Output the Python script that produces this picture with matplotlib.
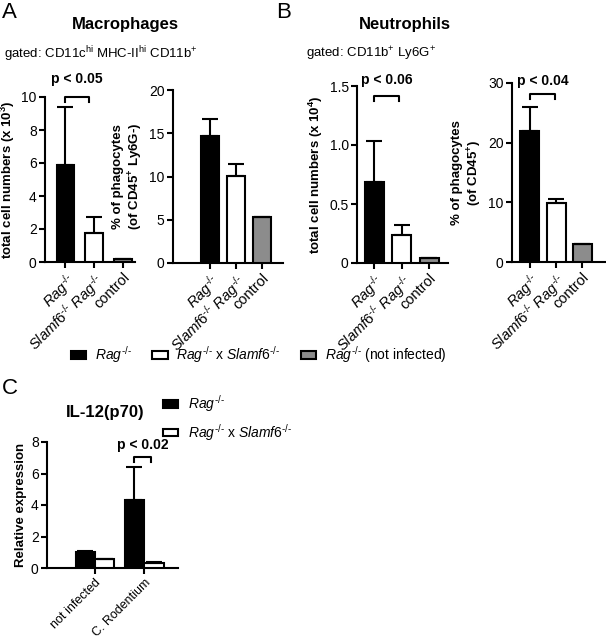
import numpy as np
import matplotlib.pyplot as plt
from matplotlib.patches import Patch

plt.rcParams['font.family'] = ['Liberation Sans', 'DejaVu Sans']
plt.rcParams['mathtext.fontset'] = 'custom'
plt.rcParams['mathtext.rm'] = 'Liberation Sans'
plt.rcParams['mathtext.it'] = 'Liberation Sans:italic'
plt.rcParams['mathtext.bf'] = 'Liberation Sans:bold'

KO = r'^{\text{-/-}}'

# data
groups = [r'$\mathit{Rag}' + KO + '$', r'$\mathit{Slamf6}' + KO + r'\ \mathit{Rag}' + KO + '$', 'control']
colors = ['black', 'white', '#8c8c8c']

mac_counts = [5.9, 1.75, 0.2]
mac_counts_err = [3.5, 1.0, 0.0]
mac_pct = [14.7, 10.1, 5.3]
mac_pct_err = [2.0, 1.4, 0.0]

neu_counts = [0.69, 0.235, 0.04]
neu_counts_err = [0.34, 0.09, 0.0]
neu_pct = [21.9, 9.9, 3.0]
neu_pct_err = [4.1, 0.7, 0.0]

il12_groups = ['not infected', 'C. Rodentium']
il12_rag = [1.0, 4.3]
il12_rag_err = [0.1, 2.1]
il12_slamf6 = [0.57, 0.3]
il12_slamf6_err = [0.03, 0.1]

fig = plt.figure(figsize=(6.06, 6.40), dpi=100)

def px_rect(l, r, t, b):
    return [l / 606, 1 - b / 640, (r - l) / 606, (b - t) / 640]

def style(ax):
    for s in ['top', 'right']:
        ax.spines[s].set_visible(False)
    for s in ['left', 'bottom']:
        ax.spines[s].set_linewidth(1.5)
    ax.tick_params(width=1.5, length=4, labelsize=10, pad=2)

def bar_panel(rect, vals, errs, ymax, yticks, yticklabels, ylabel, xlim, width):
    ax = fig.add_axes(rect)
    x = np.arange(len(vals))
    ax.bar(x, vals, width=width, color=colors, edgecolor='black', linewidth=1.5,
           yerr=[np.zeros(len(errs)), errs], capsize=6,
           error_kw=dict(elinewidth=1.5, capthick=1.5, ecolor='black'), zorder=3)
    ax.set_xlim(*xlim)
    ax.set_ylim(0, ymax)
    ax.set_yticks(yticks)
    ax.set_yticklabels(yticklabels)
    ax.set_xticks(x)
    style(ax)
    ax.set_xticklabels(groups, rotation=45, ha='right', rotation_mode='anchor', fontsize=10.5)
    ax.set_ylabel(ylabel, fontsize=9.5, fontweight='bold', labelpad=3)
    return ax

def bracket(ax, x0, x1, y, drop, label, ty):
    ax.plot([x0, x0, x1, x1], [y - drop, y, y, y - drop], color='black', lw=1.5, clip_on=False)
    ax.text((x0 + x1) / 2, ty, label, ha='center', va='center', fontsize=10, fontweight='bold')

# A left
axA1 = bar_panel(px_rect(45, 135, 97, 262), mac_counts, mac_counts_err, 10,
                 [0, 2, 4, 6, 8, 10], ['0', '2', '4', '6', '8', '10'],
                 r'total cell numbers (x 10$^{\mathbf{3}}$)', (-0.7, 2.42), 0.6)
bracket(axA1, 0, 0.82, 10, 0.3, 'p < 0.05', 11.1)

# A right
axA2 = bar_panel(px_rect(173, 283, 90, 263), mac_pct, mac_pct_err, 20,
                 [0, 5, 10, 15, 20], ['0', '5', '10', '15', '20'],
                 '% of phagocytes\n' + r'(of CD45$^{\mathbf{+}}$ Ly6G-)', (-1.42, 2.8), 0.68)

# B left
axB1 = bar_panel(px_rect(357, 448, 86, 263), neu_counts, neu_counts_err, 1.5,
                 [0, 0.5, 1.0, 1.5], ['0', '0.5', '1.0', '1.5'],
                 r'total cell numbers (x 10$^{\mathbf{4}}$)', (-0.62, 2.69), 0.69)
bracket(axB1, 0, 0.9, 1.415, 0.04, 'p < 0.06', 1.555)

# B right
axB2 = bar_panel(px_rect(512, 605, 83, 262), neu_pct, neu_pct_err, 30,
                 [0, 10, 20, 30], ['0', '10', '20', '30'],
                 '% of phagocytes\n' + r'(of CD45$^{\mathbf{+}}$)', (-0.69, 2.88), 0.73)
bracket(axB2, 0, 0.95, 28.2, 0.8, 'p < 0.04', 30.3)

# titles and gates
fig.text(125 / 606, 1 - 25 / 640, 'Macrophages', ha='center', va='center', fontsize=12, fontweight='bold')
fig.text(405 / 606, 1 - 25 / 640, 'Neutrophils', ha='center', va='center', fontsize=12, fontweight='bold')
fig.text(4 / 606, 1 - 54 / 640, r'gated: CD11c$^{\mathrm{hi}}$ MHC-II$^{\mathrm{hi}}$ CD11b$^{+}$',
         ha='left', va='center', fontsize=9.5)
fig.text(306 / 606, 1 - 54 / 640, r'gated: CD11b$^{+}$ Ly6G$^{+}$',
         ha='left', va='center', fontsize=9.5)
fig.text(2 / 606, 1 - 2 / 640, 'A', ha='left', va='top', fontsize=16)
fig.text(276 / 606, 1 - 2 / 640, 'B', ha='left', va='top', fontsize=16)
fig.text(2 / 606, 1 - 378 / 640, 'C', ha='left', va='top', fontsize=16)

# shared legend
leg_handles = [Patch(facecolor=c, edgecolor='black', linewidth=1.5) for c in colors]
leg_labels = [r'$\mathit{Rag}' + KO + '$',
              r'$\mathit{Rag}' + KO + r'$ x $\mathit{Slamf6}' + KO + '$',
              r'$\mathit{Rag}' + KO + '$ (not infected)']
fig.legend(leg_handles, leg_labels, loc='center left', bbox_to_anchor=(71 / 606, 1 - 355 / 640),
           ncol=3, frameon=False, fontsize=10, handlelength=1.1, handleheight=0.5,
           handletextpad=0.6, columnspacing=1.5, borderpad=0, borderaxespad=0)

# C
axC = fig.add_axes(px_rect(47, 178, 442, 568))
xc = np.arange(len(il12_groups))
axC.bar(xc - 0.2, il12_rag, width=0.39, color='black', edgecolor='black', linewidth=1.5,
        yerr=[np.zeros(2), il12_rag_err], capsize=6,
        error_kw=dict(elinewidth=1.5, capthick=1.5, ecolor='black'),
        label=r'$\mathit{Rag}' + KO + '$', zorder=3)
axC.bar(xc + 0.2, il12_slamf6, width=0.39, color='white', edgecolor='black', linewidth=1.5,
        yerr=[np.zeros(2), il12_slamf6_err], capsize=6,
        error_kw=dict(elinewidth=1.5, capthick=1.5, ecolor='black'),
        label=r'$\mathit{Rag}' + KO + r'$ x $\mathit{Slamf6}' + KO + '$', zorder=3)
axC.set_xlim(-0.98, 1.69)
axC.set_ylim(0, 8)
axC.set_yticks([0, 2, 4, 6, 8])
axC.set_xticks(xc)
style(axC)
axC.set_xticklabels(il12_groups, rotation=45, ha='right', rotation_mode='anchor', fontsize=9)
axC.set_ylabel('Relative expression', fontsize=9.5, fontweight='bold', labelpad=3)
bracket(axC, 0.8, 1.14, 7.05, 0.3, 'p < 0.02', 7.8)
fig.text(105 / 606, 1 - 413 / 640, 'IL-12(p70)', ha='center', va='center', fontsize=12, fontweight='bold')
axC.legend(loc='center left', bbox_to_anchor=(163 / 606, 1 - 418 / 640), bbox_transform=fig.transFigure,
           frameon=False, fontsize=10, handlelength=1.1, handleheight=0.5, handletextpad=0.7,
           labelspacing=0.55, borderpad=0, borderaxespad=0)

fig.savefig('out.png', dpi=100)
